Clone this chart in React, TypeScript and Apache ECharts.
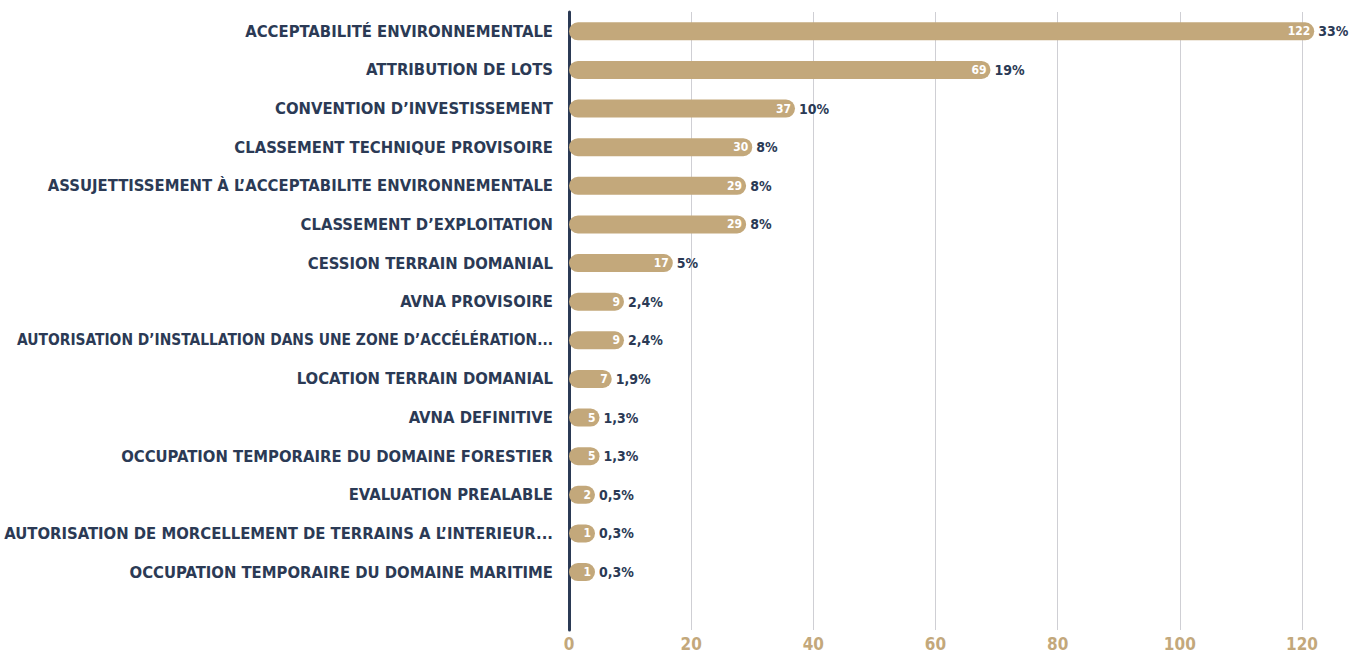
import React, { useEffect, useRef } from "react";
import * as echarts from "echarts";

const categories = [
  "ACCEPTABILITÉ ENVIRONNEMENTALE",
  "ATTRIBUTION DE LOTS",
  "CONVENTION D’INVESTISSEMENT",
  "CLASSEMENT TECHNIQUE PROVISOIRE",
  "ASSUJETTISSEMENT À L’ACCEPTABILITE ENVIRONNEMENTALE",
  "CLASSEMENT D’EXPLOITATION",
  "CESSION TERRAIN DOMANIAL",
  "AVNA PROVISOIRE",
  "AUTORISATION D’INSTALLATION DANS UNE ZONE D’ACCÉLÉRATION...",
  "LOCATION TERRAIN DOMANIAL",
  "AVNA DEFINITIVE",
  "OCCUPATION TEMPORAIRE DU DOMAINE FORESTIER",
  "EVALUATION PREALABLE",
  "AUTORISATION DE MORCELLEMENT DE TERRAINS A L’INTERIEUR...",
  "OCCUPATION TEMPORAIRE DU DOMAINE MARITIME",
  "",
];

const counts = [122, 69, 37, 30, 29, 29, 17, 9, 9, 7, 5, 5, 2, 1, 1, null];

const shares = [
  "33%", "19%", "10%", "8%", "8%", "8%", "5%", "2,4%", "2,4%", "1,9%",
  "1,3%", "1,3%", "0,5%", "0,3%", "0,3%", "",
];

const xTicks = [0, 20, 40, 60, 80, 100, 120];

const NAVY = "#2B3A55";
const TAN = "#C3A87B";
const FONT = "'DejaVu Sans Condensed', 'Liberation Sans Narrow', sans-serif";

export default function App() {
  const ref = useRef<HTMLDivElement>(null);

  useEffect(() => {
    if (!ref.current) return;
    const chart = echarts.init(ref.current, undefined, { renderer: "svg" });
    chart.setOption({
      animation: false,
      backgroundColor: "#ffffff",
      grid: {
        left: 569,
        right: 63,
        top: 12,
        bottom: 23,
        containLabel: false,
        outerBoundsMode: "none",
      },
      xAxis: {
        type: "value",
        min: xTicks[0],
        max: xTicks[xTicks.length - 1],
        interval: 20,
        axisLine: { show: false },
        axisTick: { show: false },
        splitLine: { show: true, lineStyle: { color: "#cfcfd4", width: 1 } },
        axisLabel: {
          color: TAN,
          fontFamily: FONT,
          fontWeight: "bold",
          fontSize: 17,
          margin: 5,
        },
      },
      yAxis: {
        type: "category",
        inverse: true,
        data: categories,
        axisLine: { show: true, lineStyle: { color: NAVY, width: 3 } },
        axisTick: { show: false },
        splitLine: { show: false },
        axisLabel: {
          color: NAVY,
          fontFamily: FONT,
          fontWeight: "bold",
          fontSize: 16.5,
          margin: 16,
          formatter: (v: string) => (v.length > 58 ? `{n|${v}}` : v),
          rich: {
            n: {
              color: NAVY,
              fontFamily: FONT,
              fontWeight: "bold",
              fontSize: 15.4,
            },
          },
        },
      },
      series: [
        {
          type: "bar",
          data: counts,
          barWidth: 18,
          barMinHeight: 26,
          clip: false,
          itemStyle: { color: TAN, borderRadius: 9 },
          label: {
            show: true,
            position: "insideRight",
            distance: 4,
            color: "#ffffff",
            fontFamily: FONT,
            fontWeight: "bold",
            fontSize: 12,
            formatter: (p: any) => (p.value == null ? "" : String(p.value)),
          },
        },
        {
          type: "bar",
          data: counts,
          barWidth: 18,
          barGap: "-100%",
          barMinHeight: 26,
          clip: false,
          silent: true,
          itemStyle: { color: "rgba(0,0,0,0)" },
          label: {
            show: true,
            position: "right",
            distance: 4,
            color: NAVY,
            fontFamily: FONT,
            fontWeight: "bold",
            fontSize: 14,
            formatter: (p: any) => shares[p.dataIndex],
          },
        },
      ],
    });
    return () => chart.dispose();
  }, []);

  return (
    <div
      ref={ref}
      style={{ position: "fixed", left: 0, top: 0, width: 1365, height: 653 }}
    />
  );
}
